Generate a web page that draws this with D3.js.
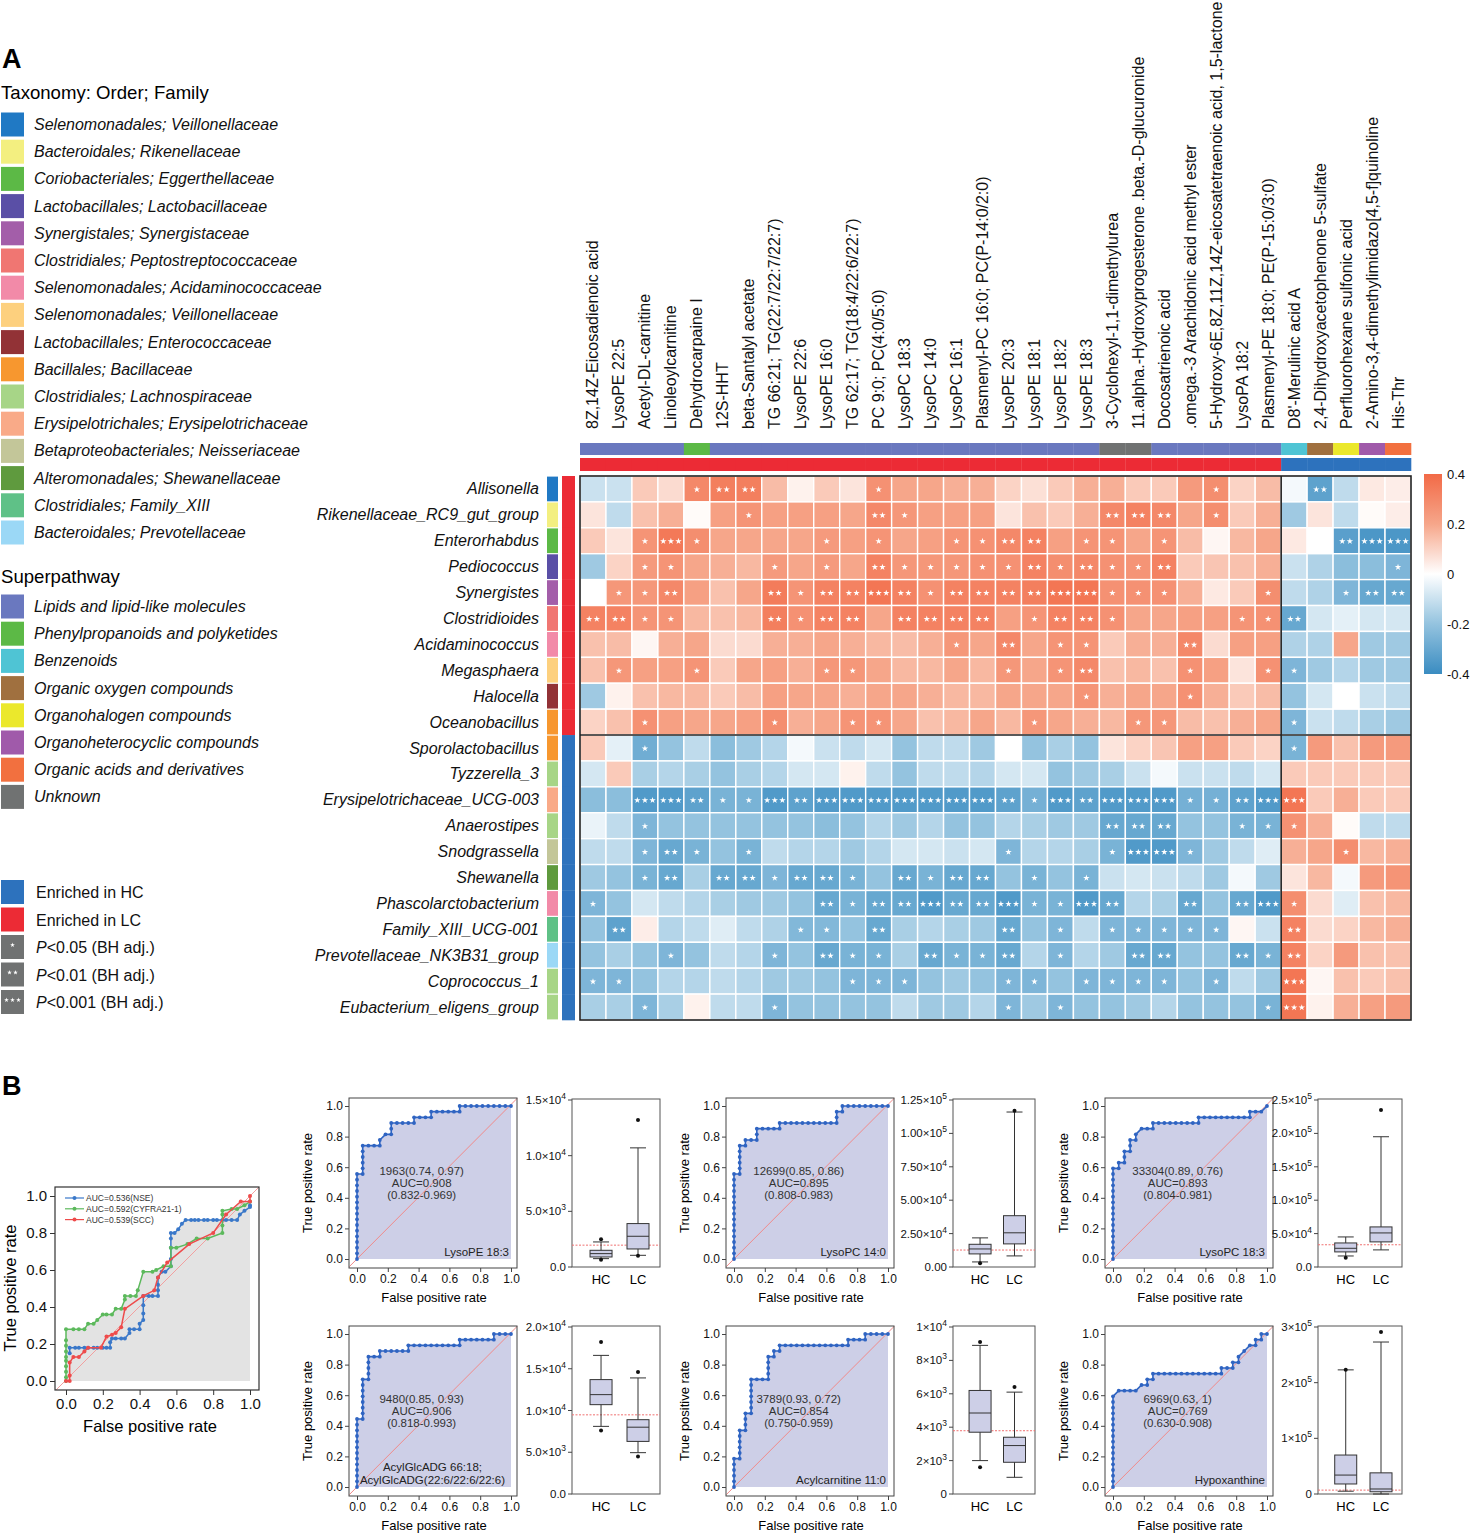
<!DOCTYPE html>
<html lang="en">
<head>
<meta charset="utf-8">
<title>Microbe-metabolite correlation and ROC</title>
<script src="https://cdn.jsdelivr.net/npm/d3@7"></script>
<style>
body { margin: 0; background: #fff; }
svg { font-family: "Liberation Sans", Arial, Helvetica, sans-serif; }
</style>
</head>
<body>
<script>

// ---------- panel A data ----------
var taxaNames = ["Selenomonadales; Veillonellaceae", "Bacteroidales; Rikenellaceae", "Coriobacteriales; Eggerthellaceae",
  "Lactobacillales; Lactobacillaceae", "Synergistales; Synergistaceae", "Clostridiales; Peptostreptococcaceae",
  "Selenomonadales; Acidaminococcaceae", "Selenomonadales; Veillonellaceae", "Lactobacillales; Enterococcaceae",
  "Bacillales; Bacillaceae", "Clostridiales; Lachnospiraceae", "Erysipelotrichales; Erysipelotrichaceae",
  "Betaproteobacteriales; Neisseriaceae", "Alteromonadales; Shewanellaceae", "Clostridiales; Family_XIII",
  "Bacteroidales; Prevotellaceae"];
var taxaColors = ["#2079c4", "#f3ef80", "#5cb946", "#5a4fa6", "#a35ea9", "#f07672", "#f28aa8", "#fdd07e",
  "#923236", "#f7972f", "#a7d587", "#f9aa88", "#c3c699", "#5f9a3e", "#5fc187", "#9bd8f6"];

var pathwayNames = ["Lipids and lipid-like molecules", "Phenylpropanoids and polyketides", "Benzenoids",
  "Organic oxygen compounds", "Organohalogen compounds", "Organoheterocyclic compounds",
  "Organic acids and derivatives", "Unknown"];
var pathwayColors = ["#6a78bf", "#5cb946", "#4fc4d4", "#a0703f", "#ebe82c", "#a05aaa", "#f2703f", "#707272"];

var groupNames = ["Enriched in HC", "Enriched in LC"];
var groupColors = {HC: "#2d72bd", LC: "#ec2b35"};

var rowNames = ["Allisonella", "Rikenellaceae_RC9_gut_group", "Enterorhabdus", "Pediococcus", "Synergistes",
  "Clostridioides", "Acidaminococcus", "Megasphaera", "Halocella", "Oceanobacillus", "Sporolactobacillus",
  "Tyzzerella_3", "Erysipelotrichaceae_UCG-003", "Anaerostipes", "Snodgrassella", "Shewanella",
  "Phascolarctobacterium", "Family_XIII_UCG-001", "Prevotellaceae_NK3B31_group", "Coprococcus_1",
  "Eubacterium_eligens_group"];
var rowTaxon = [0, 1, 2, 3, 4, 5, 6, 7, 8, 9, 9, 10, 11, 10, 12, 13, 6, 14, 15, 10, 10];
var rowGroup = ["LC", "LC", "LC", "LC", "LC", "LC", "LC", "LC", "LC", "LC",
  "HC", "HC", "HC", "HC", "HC", "HC", "HC", "HC", "HC", "HC", "HC"];

var colNames = ["8Z,14Z-Eicosadienoic acid", "LysoPE 22:5", "Acetyl-DL-carnitine", "Linoleoylcarnitine",
  "Dehydrocarpaine I", "12S-HHT", "beta-Santalyl acetate", "TG 66:21; TG(22:7/22:7/22:7)", "LysoPE 22:6",
  "LysoPE 16:0", "TG 62:17; TG(18:4/22:6/22:7)", "PC 9:0; PC(4:0/5:0)", "LysoPC 18:3", "LysoPC 14:0",
  "LysoPC 16:1", "Plasmenyl-PC 16:0; PC(P-14:0/2:0)", "LysoPE 20:3", "LysoPE 18:1", "LysoPE 18:2", "LysoPE 18:3",
  "3-Cyclohexyl-1,1-dimethylurea", "11.alpha.-Hydroxyprogesterone .beta.-D-glucuronide", "Docosatrienoic acid",
  ".omega.-3 Arachidonic acid methyl ester", "5-Hydroxy-6E,8Z,11Z,14Z-eicosatetraenoic acid, 1,5-lactone",
  "LysoPA 18:2", "Plasmenyl-PE 18:0; PE(P-15:0/3:0)", "D8'-Merulinic acid A", "2,4-Dihydroxyacetophenone 5-sulfate",
  "Perfluorohexane sulfonic acid", "2-Amino-3,4-dimethylimidazo[4,5-f]quinoline", "His-Thr"];
var colPathway = [0, 0, 0, 0, 1, 0, 0, 0, 0, 0, 0, 0, 0, 0, 0, 0, 0, 0, 0, 0, 7, 7, 0, 0, 0, 0, 0, 2, 3, 4, 5, 6];
var colGroup = ["LC", "LC", "LC", "LC", "LC", "LC", "LC", "LC", "LC", "LC", "LC", "LC", "LC", "LC", "LC", "LC",
  "LC", "LC", "LC", "LC", "LC", "LC", "LC", "LC", "LC", "LC", "LC", "HC", "HC", "HC", "HC", "HC"];

// Spearman correlation per genus (rows) and metabolite (columns)
var corr = [
  [-0.10,-0.10,0.12,0.08,0.30,0.33,0.33,0.15,0.03,0.12,0.06,0.27,0.20,0.20,0.18,0.18,0.10,0.07,0.12,0.18,0.18,0.12,0.12,0.24,0.28,0.10,0.15,-0.02,-0.32,-0.12,0.05,0.04],
  [0.06,-0.12,0.14,0.18,0.01,0.22,0.26,0.22,0.22,0.22,0.20,0.30,0.25,0.22,0.22,0.22,0.06,0.14,0.12,0.18,0.30,0.32,0.30,0.20,0.28,0.12,0.18,-0.18,0.06,-0.12,0.01,0.04],
  [0.12,0.06,0.26,0.35,0.28,0.20,0.20,0.20,0.20,0.24,0.22,0.26,0.20,0.22,0.26,0.27,0.30,0.32,0.22,0.26,0.26,0.20,0.26,0.15,0.02,0.16,0.20,0.05,0.00,-0.33,-0.36,-0.36],
  [-0.18,0.10,0.24,0.26,0.20,0.18,0.16,0.24,0.20,0.24,0.20,0.32,0.25,0.25,0.25,0.27,0.27,0.32,0.28,0.30,0.27,0.26,0.32,0.12,0.13,0.14,0.18,-0.10,-0.15,-0.22,-0.22,-0.25],
  [0.00,0.25,0.25,0.30,0.22,0.14,0.20,0.34,0.26,0.32,0.32,0.36,0.32,0.27,0.32,0.32,0.32,0.33,0.36,0.36,0.27,0.27,0.27,0.18,0.05,0.12,0.28,-0.12,-0.15,-0.25,-0.30,-0.30],
  [0.32,0.32,0.26,0.26,0.16,0.14,0.16,0.33,0.27,0.32,0.32,0.20,0.32,0.32,0.32,0.32,0.22,0.26,0.32,0.32,0.27,0.20,0.20,0.22,0.22,0.26,0.27,-0.30,-0.08,-0.05,-0.08,-0.08],
  [0.14,0.15,0.02,0.18,0.20,0.08,0.08,0.18,0.18,0.20,0.18,0.16,0.15,0.18,0.25,0.20,0.30,0.20,0.26,0.26,0.12,0.18,0.18,0.30,0.08,0.22,0.22,-0.15,-0.15,0.20,-0.18,-0.18],
  [0.14,0.25,0.22,0.22,0.26,0.12,0.20,0.22,0.18,0.25,0.25,0.20,0.16,0.16,0.20,0.16,0.25,0.20,0.26,0.30,0.14,0.16,0.14,0.27,0.22,0.06,0.27,-0.25,-0.18,-0.14,-0.18,-0.18],
  [-0.18,0.03,0.14,0.16,0.16,0.12,0.15,0.22,0.20,0.20,0.18,0.20,0.20,0.18,0.16,0.16,0.20,0.20,0.20,0.26,0.18,0.20,0.20,0.27,0.18,0.12,0.15,-0.20,-0.08,0.00,-0.10,-0.12],
  [0.10,0.14,0.27,0.22,0.20,0.20,0.22,0.28,0.18,0.20,0.26,0.26,0.20,0.14,0.16,0.20,0.16,0.25,0.20,0.18,0.16,0.25,0.25,0.15,0.14,0.18,0.20,-0.25,-0.10,-0.12,-0.16,-0.18],
  [0.12,-0.05,-0.28,-0.20,-0.12,-0.22,-0.18,-0.14,-0.02,-0.10,-0.12,-0.08,-0.20,-0.12,-0.12,-0.18,0.00,-0.20,-0.16,-0.20,0.06,0.10,0.13,0.22,0.22,0.12,0.10,-0.26,0.24,0.14,0.24,0.24],
  [-0.08,0.12,-0.16,-0.14,-0.16,-0.20,-0.16,-0.14,-0.08,-0.08,0.03,-0.12,-0.20,-0.12,-0.12,-0.14,-0.08,-0.08,-0.20,-0.18,-0.16,-0.10,-0.02,-0.10,-0.10,-0.12,-0.08,0.12,0.12,0.12,0.12,0.12],
  [-0.22,-0.22,-0.35,-0.35,-0.32,-0.26,-0.26,-0.35,-0.32,-0.35,-0.35,-0.35,-0.35,-0.35,-0.35,-0.35,-0.32,-0.27,-0.35,-0.32,-0.35,-0.35,-0.35,-0.27,-0.27,-0.32,-0.35,0.36,0.12,0.18,0.12,0.12],
  [-0.04,-0.12,-0.25,-0.20,-0.20,-0.20,-0.20,-0.20,-0.20,-0.22,-0.20,-0.14,-0.18,-0.14,-0.20,-0.20,-0.14,-0.16,-0.18,-0.18,-0.30,-0.30,-0.30,-0.20,-0.20,-0.26,-0.26,0.27,0.18,0.01,-0.12,-0.12],
  [-0.12,-0.12,-0.25,-0.30,-0.26,-0.20,-0.26,-0.12,-0.14,-0.14,-0.18,-0.14,-0.08,-0.08,-0.10,-0.08,-0.25,-0.14,-0.14,-0.16,-0.26,-0.35,-0.35,-0.25,-0.18,-0.12,-0.06,0.18,0.20,0.28,0.16,0.18],
  [-0.18,-0.20,-0.26,-0.30,-0.16,-0.30,-0.30,-0.25,-0.30,-0.30,-0.26,-0.20,-0.30,-0.26,-0.30,-0.30,-0.20,-0.26,-0.20,-0.26,-0.10,-0.08,-0.10,-0.12,-0.18,-0.02,-0.18,0.06,0.16,-0.02,0.24,0.26],
  [-0.25,-0.20,-0.08,-0.12,-0.14,-0.16,-0.18,-0.18,-0.20,-0.30,-0.26,-0.30,-0.30,-0.35,-0.30,-0.30,-0.35,-0.26,-0.26,-0.35,-0.30,-0.14,-0.16,-0.30,-0.20,-0.30,-0.35,0.28,0.08,-0.06,0.14,0.16],
  [-0.20,-0.32,0.04,-0.14,-0.12,-0.06,-0.12,-0.15,-0.24,-0.24,-0.20,-0.30,-0.16,-0.14,-0.16,-0.18,-0.30,-0.20,-0.25,-0.12,-0.25,-0.25,-0.25,-0.25,-0.25,0.02,-0.10,0.32,0.08,0.10,0.16,0.18],
  [-0.20,-0.16,-0.20,-0.25,-0.20,-0.12,-0.14,-0.25,-0.20,-0.30,-0.26,-0.26,-0.16,-0.30,-0.26,-0.26,-0.30,-0.14,-0.25,-0.14,-0.18,-0.30,-0.30,-0.20,-0.20,-0.30,-0.26,0.32,0.10,0.24,0.14,0.14],
  [-0.25,-0.25,-0.20,-0.14,-0.14,-0.12,-0.14,-0.18,-0.18,-0.20,-0.25,-0.25,-0.25,-0.20,-0.18,-0.20,-0.25,-0.25,-0.20,-0.25,-0.25,-0.25,-0.25,-0.20,-0.25,-0.12,-0.18,0.36,0.02,0.14,0.12,0.14],
  [-0.16,-0.16,-0.25,-0.16,0.03,-0.12,-0.12,-0.25,-0.20,-0.20,-0.20,-0.20,-0.12,-0.18,-0.18,-0.14,-0.25,-0.18,-0.25,-0.20,-0.20,-0.18,-0.14,-0.20,-0.20,-0.20,-0.26,0.36,0.03,0.18,0.22,0.24]
];

// number of stars (BH adjusted P level) per cell
var sig = [
  [0,0,0,0,1,2,2,0,0,0,0,1,0,0,0,0,0,0,0,0,0,0,0,0,1,0,0,0,2,0,0,0],
  [0,0,0,0,0,0,1,0,0,0,0,2,1,0,0,0,0,0,0,0,2,2,2,0,1,0,0,0,0,0,0,0],
  [0,0,1,3,1,0,0,0,0,1,0,1,0,0,1,1,2,2,0,1,1,0,1,0,0,0,0,0,0,2,3,3],
  [0,0,1,1,0,0,0,1,0,1,0,2,1,1,1,1,1,2,1,2,1,1,2,0,0,0,0,0,0,0,0,1],
  [0,1,1,2,0,0,0,2,1,2,2,3,2,1,2,2,2,2,3,3,1,1,1,0,0,0,1,0,0,1,2,2],
  [2,2,1,1,0,0,0,2,1,2,2,0,2,2,2,2,0,1,2,2,1,0,0,0,0,1,1,2,0,0,0,0],
  [0,0,0,0,0,0,0,0,0,0,0,0,0,0,1,0,2,0,1,1,0,0,0,2,0,0,0,0,0,0,0,0],
  [0,1,0,0,1,0,0,0,0,1,1,0,0,0,0,0,1,0,1,2,0,0,0,1,0,0,1,1,0,0,0,0],
  [0,0,0,0,0,0,0,0,0,0,0,0,0,0,0,0,0,0,0,1,0,0,0,1,0,0,0,0,0,0,0,0],
  [0,0,1,0,0,0,0,1,0,0,1,1,0,0,0,0,0,1,0,0,0,1,1,0,0,0,0,1,0,0,0,0],
  [0,0,1,0,0,0,0,0,0,0,0,0,0,0,0,0,0,0,0,0,0,0,0,0,0,0,0,1,0,0,0,0],
  [0,0,0,0,0,0,0,0,0,0,0,0,0,0,0,0,0,0,0,0,0,0,0,0,0,0,0,0,0,0,0,0],
  [0,0,3,3,2,1,1,3,2,3,3,3,3,3,3,3,2,1,3,2,3,3,3,1,1,2,3,3,0,0,0,0],
  [0,0,1,0,0,0,0,0,0,0,0,0,0,0,0,0,0,0,0,0,2,2,2,0,0,1,1,1,0,0,0,0],
  [0,0,1,2,1,0,1,0,0,0,0,0,0,0,0,0,1,0,0,0,1,3,3,1,0,0,0,0,0,1,0,0],
  [0,0,1,2,0,2,2,1,2,2,1,0,2,1,2,2,0,1,0,1,0,0,0,0,0,0,0,0,0,0,0,0],
  [1,0,0,0,0,0,0,0,0,2,1,2,2,3,2,2,3,1,1,3,2,0,0,2,0,2,3,1,0,0,0,0],
  [0,2,0,0,0,0,0,0,1,1,0,2,0,0,0,0,2,0,1,0,1,1,1,1,1,0,0,2,0,0,0,0],
  [0,0,0,1,0,0,0,1,0,2,1,1,0,2,1,1,2,0,1,0,0,2,2,0,0,2,1,2,0,0,0,0],
  [1,1,0,0,0,0,0,0,0,0,1,1,1,0,0,0,1,1,0,1,1,1,1,0,1,0,0,3,0,0,0,0],
  [0,0,1,0,0,0,0,1,0,0,0,0,0,0,0,0,1,0,1,0,0,0,0,0,0,0,1,3,0,0,0,0]
];
var colorTicks = [0.4, 0.2, 0, -0.2, -0.4];
var colorTickLabels = ["0.4", "0.2", "0", "-0.2", "-0.4"];
var sigLabels = ["<0.05 (BH adj.)", "<0.01 (BH adj.)", "<0.001 (BH adj.)"];

// ---------- panel B data ----------
var rocNSE = [[0.02,0.15],[0.02,0.18],[0.05,0.18],[0.07,0.18],[0.1,0.18],[0.12,0.18],[0.15,0.18],[0.17,0.18],[0.2,0.18],[0.22,0.18],[0.24,0.18],[0.24,0.21],[0.25,0.23],[0.27,0.23],[0.3,0.23],[0.32,0.23],[0.345,0.26],[0.345,0.28],[0.37,0.28],[0.4,0.28],[0.4,0.31],[0.42,0.33],[0.42,0.365],[0.42,0.41],[0.42,0.46],[0.45,0.46],[0.47,0.46],[0.5,0.46],[0.5,0.49],[0.5,0.52],[0.5,0.56],[0.52,0.59],[0.54,0.59],[0.57,0.62],[0.57,0.66],[0.57,0.72],[0.57,0.77],[0.57,0.8],[0.59,0.8],[0.61,0.82],[0.63,0.85],[0.65,0.87],[0.68,0.87],[0.7,0.87],[0.72,0.87],[0.75,0.87],[0.77,0.87],[0.8,0.87],[0.82,0.87],[0.85,0.87],[0.87,0.87],[0.9,0.87],[0.93,0.87],[0.945,0.9],[0.97,0.92],[1,0.94],[1,0.95]];
var rocCYFRA = [[0,0],[0,0.02],[0,0.05],[0,0.08],[0,0.11],[0,0.13],[0,0.16],[0,0.19],[0,0.22],[0,0.28],[0.04,0.28],[0.07,0.28],[0.1,0.28],[0.12,0.31],[0.15,0.31],[0.17,0.33],[0.2,0.36],[0.22,0.36],[0.25,0.36],[0.27,0.39],[0.3,0.39],[0.32,0.44],[0.32,0.46],[0.35,0.46],[0.38,0.46],[0.39,0.49],[0.42,0.59],[0.47,0.59],[0.49,0.6],[0.53,0.62],[0.57,0.62],[0.57,0.72],[0.6,0.72],[0.66,0.74],[0.71,0.77],[0.77,0.77],[0.85,0.8],[0.85,0.84],[0.85,0.9],[0.85,0.92],[0.9,0.93],[0.93,0.93],[0.97,0.95],[1,0.97]];
var rocSCC = [[0,0],[0.02,0],[0.02,0.03],[0.02,0.1],[0.04,0.13],[0.07,0.13],[0.1,0.16],[0.12,0.18],[0.19,0.18],[0.22,0.24],[0.25,0.25],[0.27,0.26],[0.3,0.29],[0.32,0.39],[0.42,0.46],[0.48,0.49],[0.5,0.56],[0.55,0.64],[0.67,0.74],[0.8,0.8],[0.87,0.9],[0.95,0.97],[1,0.97],[1,1]];
var markerNames = ["AUC=0.536(NSE)", "AUC=0.592(CYFRA21-1)", "AUC=0.539(SCC)"];

// ROC corners in counts of 27 HC (x) and 27 LC (y) samples
var rocN = 27;
var roc1Steps = [[0,0],[0,15],[1,15],[1,20],[4,20],[4,21],[5,22],[6,22],[6,24],[10,24],[10,25],[13,25],[13,26],[18,26],[18,27],[27,27]];
var roc2Steps = [[0,0],[0,15],[1,15],[1,20],[2,20],[2,21],[4,21],[4,23],[8,23],[8,24],[18,24],[18,26],[19,26],[19,27],[27,27]];
var roc3Steps = [[0,0],[0,16],[1,16],[1,17],[2,17],[2,19],[3,19],[3,21],[4,21],[4,22],[5,23],[7,23],[7,24],[15,24],[15,25],[24,25],[24,26],[26,26],[27,27]];
var roc4Steps = [[0,0],[0,12],[1,12],[1,19],[2,19],[2,23],[4,23],[4,24],[9,24],[9,25],[18,25],[18,26],[24,26],[24,27],[27,27]];
var roc5Steps = [[0,0],[0,5],[1,5],[1,10],[2,10],[2,13],[3,13],[3,19],[6,19],[6,23],[7,23],[7,24],[8,24],[8,25],[20,25],[20,26],[23,26],[23,27],[27,27]];
var roc6Steps = [[0,0],[0,16],[1,17],[4,17],[5,18],[6,18],[6,19],[7,19],[7,20],[19,20],[19,21],[21,21],[21,22],[22,22],[22,23],[23,24],[24,25],[25,25],[25,26],[26,26],[26,27],[27,27]];

var rocTexts = [
  ["1963(0.74, 0.97)", "AUC=0.908", "(0.832-0.969)"],
  ["12699(0.85, 0.86)", "AUC=0.895", "(0.808-0.983)"],
  ["33304(0.89, 0.76)", "AUC=0.893", "(0.804-0.981)"],
  ["9480(0.85, 0.93)", "AUC=0.906", "(0.818-0.993)"],
  ["3789(0.93, 0.72)", "AUC=0.854", "(0.750-0.959)"],
  ["6969(0.63, 1)", "AUC=0.769", "(0.630-0.908)"]
];
var metaboliteNames = [["LysoPE 18:3"], ["LysoPC 14:0"], ["LysoPC 18:3"],
  ["AcylGlcADG 66:18;", "AcylGlcADG(22:6/22:6/22:6)"], ["Acylcarnitine 11:0"], ["Hypoxanthine"]];

// box stats: [low whisker, Q1, median, Q3, high whisker]
var boxHC = [[750,900,1200,1500,2250], [3800,9800,13500,17000,21800], [16500,22600,28000,36000,45000],
  [8100,10700,11900,13700,16600], [2000,3700,4850,6200,8900], [5000,18000,34000,70000,223000]];
var boxLC = [[1050,1620,2760,3900,10700], [8300,17300,25600,38400,116000], [25600,37600,51000,60000,195000],
  [4950,6300,8000,8900,13900], [1000,1900,2900,3400,6100], [0,4000,9000,38000,273000]];
var outHC = [[660,2490], [2900], [14000], [18200,7600], [9100,1600], [223000]];
var outLC = [[1000,13200], [117000], [235000], [14600,4500], [6400], [291000]];
var cutoffs = [1963, 12699, 33304, 9480, 3789, 6969];
var boxMax = [15000, 125000, 250000, 20000, 10000, 300000];
var boxTicks = [
  [[0,"0.0",""],[5000,"5.0×10","3"],[10000,"1.0×10","4"],[15000,"1.5×10","4"]],
  [[0,"0.00",""],[25000,"2.50×10","4"],[50000,"5.00×10","4"],[75000,"7.50×10","4"],[100000,"1.00×10","5"],[125000,"1.25×10","5"]],
  [[0,"0.0",""],[50000,"5.0×10","4"],[100000,"1.0×10","5"],[150000,"1.5×10","5"],[200000,"2.0×10","5"],[250000,"2.5×10","5"]],
  [[0,"0.0",""],[5000,"5.0×10","3"],[10000,"1.0×10","4"],[15000,"1.5×10","4"],[20000,"2.0×10","4"]],
  [[0,"0",""],[2000,"2×10","3"],[4000,"4×10","3"],[6000,"6×10","3"],[8000,"8×10","3"],[10000,"1×10","4"]],
  [[0,"0",""],[100000,"1×10","5"],[200000,"2×10","5"],[300000,"3×10","5"]]
];

// ---------- svg ----------
var w = 1471, h = 1536;
var svg = d3.select("body").append("svg").attr("width", w).attr("height", h);

svg.append("text").attr("x", 2).attr("y", 68).attr("font-size", 27).attr("font-weight", "bold").text("A");
svg.append("text").attr("x", 2).attr("y", 1095).attr("font-size", 27).attr("font-weight", "bold").text("B");

// ---------- heatmap ----------
var x = d3.scaleBand().domain(d3.range(colNames.length)).range([580, 1411]);
var y = d3.scaleBand().domain(d3.range(rowNames.length)).range([476, 1020]);
var color = d3.scaleLinear().domain([-0.4, -0.2, 0, 0.2, 0.4])
  .range(["#3a8cc1", "#94c3df", "#ffffff", "#f6a68a", "#f26a47"]).clamp(true);

var cells = [];
corr.forEach(function(row, i) {
  row.forEach(function(v, j) { cells.push({i: i, j: j, v: v, s: sig[i][j]}); });
});

var hm = svg.append("g");
hm.selectAll("rect.cell").data(cells).enter().append("rect")
  .attr("x", function(d) { return x(d.j); })
  .attr("y", function(d) { return y(d.i); })
  .attr("width", x.bandwidth())
  .attr("height", y.bandwidth())
  .attr("fill", function(d) { return color(d.v); })
  .attr("stroke", "#fff")
  .attr("stroke-width", 1.4);

var star = d3.symbol().type(d3.symbolStar).size(13);
cells.filter(function(d) { return d.s > 0; }).forEach(function(d) {
  for (var k = 0; k < d.s; k++) {
    hm.append("path").attr("d", star).attr("fill", "#fff")
      .attr("transform", "translate(" + (x(d.j) + x.bandwidth() / 2 + (k - (d.s - 1) / 2) * 7.6) + "," + (y(d.i) + y.bandwidth() / 2 + 0.5) + ")");
  }
});

// block frames
hm.append("rect").attr("x", 580).attr("y", 476).attr("width", 831).attr("height", 544)
  .attr("fill", "none").attr("stroke", "#222").attr("stroke-width", 1.6);
hm.append("line").attr("x1", 580).attr("x2", 1411).attr("y1", y(10)).attr("y2", y(10))
  .attr("stroke", "#222").attr("stroke-width", 1.6);
hm.append("line").attr("x1", x(27)).attr("x2", x(27)).attr("y1", 476).attr("y2", 1020)
  .attr("stroke", "#222").attr("stroke-width", 1.6);

// row annotations
hm.selectAll("rect.tax").data(rowNames).enter().append("rect")
  .attr("x", 547).attr("y", function(d, i) { return y(i) + 0.6; })
  .attr("width", 11).attr("height", y.bandwidth() - 1.2)
  .attr("fill", function(d, i) { return taxaColors[rowTaxon[i]]; });
hm.selectAll("rect.rgrp").data(rowNames).enter().append("rect")
  .attr("x", 562).attr("y", function(d, i) { return y(i); })
  .attr("width", 13).attr("height", y.bandwidth() + 0.3)
  .attr("fill", function(d, i) { return groupColors[rowGroup[i]]; });
hm.selectAll("text.rowlab").data(rowNames).enter().append("text")
  .attr("x", 539).attr("y", function(d, i) { return y(i) + y.bandwidth() / 2 + 5.5; })
  .attr("text-anchor", "end").attr("font-size", 16).attr("font-style", "italic").attr("fill", "#111")
  .text(function(d) { return d; });

// column annotations
hm.selectAll("rect.path").data(colNames).enter().append("rect")
  .attr("x", function(d, j) { return x(j); }).attr("y", 443)
  .attr("width", x.bandwidth() + 0.3).attr("height", 12)
  .attr("fill", function(d, j) { return pathwayColors[colPathway[j]]; });
hm.selectAll("rect.cgrp").data(colNames).enter().append("rect")
  .attr("x", function(d, j) { return x(j); }).attr("y", 458)
  .attr("width", x.bandwidth() + 0.3).attr("height", 13)
  .attr("fill", function(d, j) { return groupColors[colGroup[j]]; });
hm.selectAll("text.collab").data(colNames).enter().append("text")
  .attr("transform", function(d, j) { return "translate(" + (x(j) + x.bandwidth() / 2 + 5.5) + ",429) rotate(-90)"; })
  .attr("font-size", 16).attr("fill", "#111")
  .text(function(d) { return d; });

// colour bar
var defs = svg.append("defs");
var grad = defs.append("linearGradient").attr("id", "cbar").attr("x1", 0).attr("x2", 0).attr("y1", 0).attr("y2", 1);
d3.range(0, 1.0001, 0.05).forEach(function(t) {
  grad.append("stop").attr("offset", t).attr("stop-color", color(0.4 - 0.8 * t));
});
var cb = d3.scaleLinear().domain([0.4, -0.4]).range([474, 674]);
svg.append("rect").attr("x", 1424).attr("y", 474).attr("width", 18).attr("height", 200).attr("fill", "url(#cbar)");
svg.selectAll("text.cb").data(colorTicks).enter().append("text")
  .attr("x", 1447).attr("y", function(d) { return cb(d) + 5; })
  .attr("font-size", 13).attr("fill", "#111")
  .text(function(d, i) { return colorTickLabels[i]; });

// ---------- legends ----------
var lg = svg.append("g");
lg.append("text").attr("x", 1).attr("y", 99).attr("font-size", 18.6).text("Taxonomy: Order; Family");
taxaNames.forEach(function(n, i) {
  var cy = 124.5 + i * 27.2;
  lg.append("rect").attr("x", 1).attr("y", cy - 12).attr("width", 23).attr("height", 24).attr("fill", taxaColors[i]);
  lg.append("text").attr("x", 34).attr("y", cy + 5.5).attr("font-size", 16).attr("font-style", "italic").attr("fill", "#111").text(n);
});
lg.append("text").attr("x", 1).attr("y", 583).attr("font-size", 18.6).text("Superpathway");
pathwayNames.forEach(function(n, i) {
  var cy = 606.5 + i * 27.2;
  lg.append("rect").attr("x", 1).attr("y", cy - 12).attr("width", 23).attr("height", 24).attr("fill", pathwayColors[i]);
  lg.append("text").attr("x", 34).attr("y", cy + 5.5).attr("font-size", 16).attr("font-style", "italic").attr("fill", "#111").text(n);
});
groupNames.forEach(function(n, i) {
  var cy = 892 + i * 27.5;
  lg.append("rect").attr("x", 1).attr("y", cy - 12).attr("width", 23).attr("height", 24)
    .attr("fill", i === 0 ? groupColors.HC : groupColors.LC);
  lg.append("text").attr("x", 36).attr("y", cy + 6).attr("font-size", 16).attr("fill", "#111").text(n);
});
var smallStar = d3.symbol().type(d3.symbolStar).size(7);
sigLabels.forEach(function(n, i) {
  var cy = 947 + i * 27.5;
  lg.append("rect").attr("x", 1).attr("y", cy - 12).attr("width", 23).attr("height", 24).attr("fill", "#707272");
  for (var k = 0; k <= i; k++) {
    lg.append("path").attr("d", smallStar).attr("fill", "#fff")
      .attr("transform", "translate(" + (12.5 + (k - i / 2) * 6) + "," + (cy - 2) + ")");
  }
  var t = lg.append("text").attr("x", 36).attr("y", cy + 6).attr("font-size", 16).attr("fill", "#111");
  t.append("tspan").attr("font-style", "italic").text("P");
  t.append("tspan").text(n);
});

// ---------- big ROC (serum markers) ----------
var bg = svg.append("g");
var bx = d3.scaleLinear().domain([0, 1]).range([66, 250]);
var by = d3.scaleLinear().domain([0, 1]).range([1381, 1196]);
var markerSeries = [rocNSE, rocCYFRA, rocSCC];
var markerColors = ["#3a78c9", "#5cb95c", "#ee4b4b"];

var bArea = d3.area().x(function(d) { return bx(d[0]); }).y0(by(0)).y1(function(d) { return by(d[1]); });
markerSeries.forEach(function(s) {
  bg.append("path").attr("d", bArea(s.concat([[1, s[s.length - 1][1]]]))).attr("fill", "#e3e3e3");
});
bg.append("line").attr("x1", 56).attr("y1", 1390).attr("x2", 259).attr("y2", 1187)
  .attr("stroke", "#f2a0a0").attr("stroke-width", 1);
var bLine = d3.line().x(function(d) { return bx(d[0]); }).y(function(d) { return by(d[1]); });
markerSeries.forEach(function(s, k) {
  bg.append("path").attr("d", bLine(s)).attr("fill", "none").attr("stroke", markerColors[k]).attr("stroke-width", 1.5);
  bg.selectAll("circle.m" + k).data(s).enter().append("circle")
    .attr("cx", function(d) { return bx(d[0]); }).attr("cy", function(d) { return by(d[1]); })
    .attr("r", 2).attr("fill", markerColors[k]);
});
bg.append("rect").attr("x", 55).attr("y", 1187).attr("width", 204).attr("height", 203)
  .attr("fill", "none").attr("stroke", "#333").attr("stroke-width", 1.2);

var bxAxis = bg.append("g").attr("transform", "translate(0,1390)")
  .call(d3.axisBottom(bx).tickValues([0, 0.2, 0.4, 0.6, 0.8, 1]).tickFormat(d3.format(".1f")).tickSize(5).tickPadding(3));
var byAxis = bg.append("g").attr("transform", "translate(55,0)")
  .call(d3.axisLeft(by).tickValues([0, 0.2, 0.4, 0.6, 0.8, 1]).tickFormat(d3.format(".1f")).tickSize(5).tickPadding(3));
[bxAxis, byAxis].forEach(function(a) {
  a.select(".domain").remove();
  a.selectAll("text").attr("font-size", 15).attr("fill", "#111").attr("font-family", "Liberation Sans, Arial, sans-serif");
  a.selectAll("line").attr("stroke", "#333");
});
bg.append("text").attr("x", 150).attr("y", 1432).attr("text-anchor", "middle").attr("font-size", 16.5).text("False positive rate");
bg.append("text").attr("transform", "translate(16,1288) rotate(-90)").attr("text-anchor", "middle").attr("font-size", 16.5).text("True positive rate");

markerNames.forEach(function(n, k) {
  var ly = 1198 + k * 10.8;
  bg.append("line").attr("x1", 65).attr("x2", 84).attr("y1", ly).attr("y2", ly).attr("stroke", markerColors[k]).attr("stroke-width", 1.2);
  bg.append("circle").attr("cx", 74.5).attr("cy", ly).attr("r", 2).attr("fill", markerColors[k]);
  bg.append("text").attr("x", 86).attr("y", ly + 3).attr("font-size", 8.5).attr("fill", "#333").text(n);
});

// ---------- metabolite ROC + box panels ----------
var rocSteps = [roc1Steps, roc2Steps, roc3Steps, roc4Steps, roc5Steps, roc6Steps];
var panelX = [357, 734, 1113];
var panelY = [1259, 1487];
var boxX = [[572, 660], [953, 1035], [1318, 1402]];
var boxY = [[1100, 1267], [1327, 1494]];

function stepPoints(corners) {
  var pts = [corners[0]];
  for (var c = 1; c < corners.length; c++) {
    var a = corners[c - 1], b = corners[c];
    var n = Math.max(Math.abs(b[0] - a[0]), Math.abs(b[1] - a[1]));
    for (var k = 1; k <= n; k++) {
      pts.push([a[0] + (b[0] - a[0]) * k / n, a[1] + (b[1] - a[1]) * k / n]);
    }
  }
  return pts;
}

function drawRoc(p) {
  var col = p % 3, row = Math.floor(p / 3);
  var x0 = panelX[col], y0 = panelY[row];
  var sx = d3.scaleLinear().domain([0, rocN]).range([x0, x0 + 154]);
  var sy = d3.scaleLinear().domain([0, rocN]).range([y0, y0 - 153]);
  var fx = d3.scaleLinear().domain([0, 1]).range([x0, x0 + 154]);
  var fy = d3.scaleLinear().domain([0, 1]).range([y0, y0 - 153]);
  var g = svg.append("g");
  var pts = stepPoints(rocSteps[p]);

  g.append("path").attr("d", d3.area().x(function(d) { return sx(d[0]); }).y0(y0).y1(function(d) { return sy(d[1]); })(rocSteps[p]))
    .attr("fill", "#cdcfe7");
  g.append("line").attr("x1", fx(-0.05)).attr("y1", fy(-0.05)).attr("x2", fx(1.04)).attr("y2", fy(1.05))
    .attr("stroke", "#f08a8a").attr("stroke-width", 1);
  g.append("rect").attr("x", x0 - 8).attr("y", y0 - 161).attr("width", 168).attr("height", 170)
    .attr("fill", "none").attr("stroke", "#444").attr("stroke-width", 1);
  g.append("path").attr("d", d3.line().x(function(d) { return sx(d[0]); }).y(function(d) { return sy(d[1]); })(rocSteps[p]))
    .attr("fill", "none").attr("stroke", "#2f64c2").attr("stroke-width", 1.6);
  g.selectAll("circle").data(pts).enter().append("circle")
    .attr("cx", function(d) { return sx(d[0]); }).attr("cy", function(d) { return sy(d[1]); })
    .attr("r", 1.9).attr("fill", "#2f64c2");

  var ax = g.append("g").attr("transform", "translate(0," + (y0 + 9) + ")")
    .call(d3.axisBottom(fx).tickValues([0, 0.2, 0.4, 0.6, 0.8, 1]).tickFormat(d3.format(".1f")).tickSize(4).tickPadding(2));
  var ay = g.append("g").attr("transform", "translate(" + (x0 - 8) + ",0)")
    .call(d3.axisLeft(fy).tickValues([0, 0.2, 0.4, 0.6, 0.8, 1]).tickFormat(d3.format(".1f")).tickSize(4).tickPadding(2));
  [ax, ay].forEach(function(a) {
    a.select(".domain").remove();
    a.selectAll("text").attr("font-size", 12).attr("fill", "#111").attr("font-family", "Liberation Sans, Arial, sans-serif");
    a.selectAll("line").attr("stroke", "#444");
  });
  g.append("text").attr("x", x0 + 77).attr("y", y0 + 43).attr("text-anchor", "middle").attr("font-size", 13).text("False positive rate");
  g.append("text").attr("transform", "translate(" + (x0 - 45) + "," + (y0 - 76) + ") rotate(-90)")
    .attr("text-anchor", "middle").attr("font-size", 13).text("True positive rate");

  rocTexts[p].forEach(function(t, k) {
    g.append("text").attr("x", fx(0.42)).attr("y", fy(0.55) + k * 12).attr("text-anchor", "middle")
      .attr("font-size", 11.5).attr("fill", "#333").text(t);
  });
  var names = metaboliteNames[p];
  if (names.length === 1) {
    g.append("text").attr("x", x0 + 152).attr("y", y0 - 3).attr("text-anchor", "end")
      .attr("font-size", 11.5).attr("fill", "#222").text(names[0]);
  } else {
    names.forEach(function(t, k) {
      g.append("text").attr("x", fx(0.49)).attr("y", y0 - 16 + k * 13).attr("text-anchor", "middle")
        .attr("font-size", 11.5).attr("fill", "#222").text(t);
    });
  }
}

function drawBox(p) {
  var col = p % 3, row = Math.floor(p / 3);
  var left = boxX[col][0], right = boxX[col][1];
  var top = boxY[row][0], bottom = boxY[row][1];
  var ys = d3.scaleLinear().domain([0, boxMax[p]]).range([bottom, top]);
  var g = svg.append("g");
  var cx = [left + (right - left) * 0.33, left + (right - left) * 0.75];

  g.append("rect").attr("x", left).attr("y", top - 1).attr("width", right - left).attr("height", bottom - top + 1)
    .attr("fill", "none").attr("stroke", "#555").attr("stroke-width", 1);
  boxTicks[p].forEach(function(t) {
    g.append("line").attr("x1", left - 4).attr("x2", left).attr("y1", ys(t[0])).attr("y2", ys(t[0])).attr("stroke", "#444");
    var tx = g.append("text").attr("x", left - 6).attr("y", ys(t[0]) + 4).attr("text-anchor", "end")
      .attr("font-size", 11.5).attr("fill", "#111");
    tx.append("tspan").text(t[1]);
    if (t[2]) tx.append("tspan").attr("dy", -5).attr("font-size", 8.5).text(t[2]);
  });

  g.append("line").attr("x1", left).attr("x2", right).attr("y1", ys(cutoffs[p])).attr("y2", ys(cutoffs[p]))
    .attr("stroke", "#f07070").attr("stroke-width", 1).attr("stroke-dasharray", "2,1.5");

  [boxHC[p], boxLC[p]].forEach(function(s, k) {
    var c = cx[k];
    g.append("line").attr("x1", c).attr("x2", c).attr("y1", ys(s[0])).attr("y2", ys(s[4])).attr("stroke", "#333");
    g.append("line").attr("x1", c - 8).attr("x2", c + 8).attr("y1", ys(s[0])).attr("y2", ys(s[0])).attr("stroke", "#333");
    g.append("line").attr("x1", c - 8).attr("x2", c + 8).attr("y1", ys(s[4])).attr("y2", ys(s[4])).attr("stroke", "#333");
    g.append("rect").attr("x", c - 11).attr("y", ys(s[3])).attr("width", 22).attr("height", Math.max(1, ys(s[1]) - ys(s[3])))
      .attr("fill", "#cdcfe7").attr("stroke", "#333");
    g.append("line").attr("x1", c - 11).attr("x2", c + 11).attr("y1", ys(s[2])).attr("y2", ys(s[2])).attr("stroke", "#333");
    (k === 0 ? outHC[p] : outLC[p]).forEach(function(o) {
      g.append("circle").attr("cx", c).attr("cy", ys(o)).attr("r", 2).attr("fill", "#111");
    });
    g.append("text").attr("x", c).attr("y", bottom + 17).attr("text-anchor", "middle").attr("font-size", 13)
      .text(k === 0 ? "HC" : "LC");
  });
}

for (var p = 0; p < 6; p++) { drawRoc(p); drawBox(p); }

</script>
</body>
</html>
